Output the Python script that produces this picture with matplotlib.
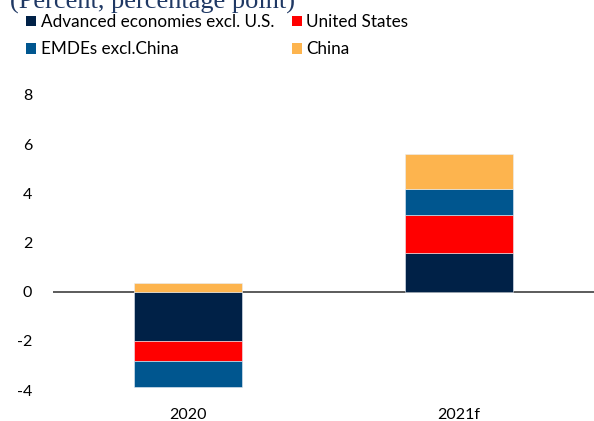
import numpy as np
import matplotlib
matplotlib.use('Agg')
import matplotlib.pyplot as plt
from matplotlib.patches import Patch

plt.rcParams['font.family'] = ['Lato', 'DejaVu Sans']

# data
years = ['2020', '2021f']
series = ['Advanced economies excl. U.S.', 'United States', 'EMDEs excl.China', 'China']
adv_ex_us = [-2.0, 1.57]
united_states = [-0.83, 1.53]
emdes_ex_china = [-1.04, 1.06]
china = [0.34, 1.44]
colors = ['#002147', '#FF0000', '#00568F', '#FDB44E']
yticks = [-4, -2, 0, 2, 4, 6, 8]

fig = plt.figure(figsize=(5.94, 4.21), dpi=100)
ax = fig.add_axes([0.0892, 0.0734, 0.9108, 0.7012])

x = np.arange(len(years))
pos_base = np.zeros(len(years))
neg_base = np.zeros(len(years))
for name, vals, col in zip(series, [adv_ex_us, united_states, emdes_ex_china, china], colors):
    vals = np.array(vals)
    bottom = np.where(vals >= 0, pos_base, neg_base)
    ax.bar(x, vals, 0.4, bottom=bottom, color=col, edgecolor='#e8eef5',
           linewidth=0.4, zorder=2)
    pos_base += np.where(vals >= 0, vals, 0)
    neg_base += np.where(vals < 0, vals, 0)

ax.axhline(0, color='#404040', linewidth=1.2, zorder=1)

ax.set_xlim(-0.5, 1.5)
ax.set_ylim(-4, 8)
ax.set_yticks(yticks)
ax.set_yticklabels([str(t) for t in yticks])
ax.set_xticks(x)
ax.set_xticklabels(years)
ax.tick_params(axis='both', length=0, labelsize=11.5)
ax.tick_params(axis='y', pad=15)
ax.tick_params(axis='x', pad=13)
for s in ax.spines.values():
    s.set_visible(False)

# legend: column-major order gives two rows
order = [0, 2, 1, 3]
handles = [Patch(facecolor=colors[i], edgecolor='none') for i in order]
labels = [series[i] for i in order]
fig.legend(handles, labels, ncol=2, loc='upper left', bbox_to_anchor=(26 / 594, 1.0 - 14 / 421),
           frameon=False, fontsize=12.3, handlelength=0.6, handleheight=0.6,
           handletextpad=0.25, columnspacing=1.05, labelspacing=0.67, borderaxespad=0,
           borderpad=0)

fig.text(10 / 594, 1 - 9 / 421, '(Percent, percentage point)', family='Liberation Serif',
         fontsize=19, color='#1F3864', va='baseline', ha='left')

fig.savefig('out.png', dpi=100)
